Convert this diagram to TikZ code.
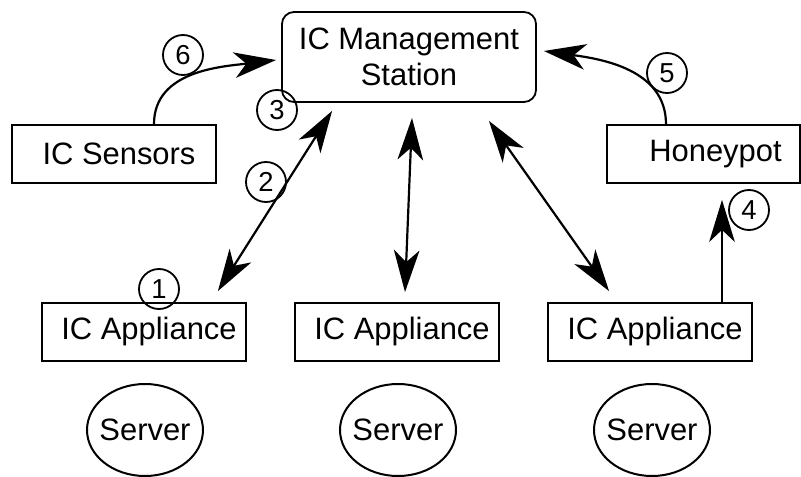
\documentclass[tikz,border=0pt]{standalone}
\usepackage{fontspec}
\setmainfont{Liberation Sans}
\usepackage{tikz}
\usetikzlibrary{positioning,arrows.meta,calc,shapes.geometric}

\begin{document}
\begin{tikzpicture}[
  x=0.25mm,y=0.25mm,
  font=\fontsize{22}{25.5}\selectfont,
  box/.style={rectangle,draw,line width=0.45mm,minimum width=51mm,minimum height=14.5mm,inner sep=0,
    execute at begin node={\hspace*{2.5mm}}},
  st/.style={rectangle,draw,line width=0.45mm,rounded corners=3mm,minimum width=63.5mm,minimum height=22.5mm,align=center,inner sep=0},
  srv/.style={ellipse,draw,line width=0.5mm,minimum width=29mm,minimum height=23mm,inner ysep=0,inner xsep=-3mm},
  num/.style={circle,draw,line width=0.45mm,minimum size=10mm,inner sep=0,font=\fontsize{19.5}{22}\selectfont},
  a/.style={-{Stealth[length=10.5mm,width=6.4mm,inset=3mm]},line width=0.55mm},
  aa/.style={{Stealth[length=10.5mm,width=6.4mm,inset=3mm]}-{Stealth[length=10.5mm,width=6.4mm,inset=3mm]},line width=0.55mm},
]
\useasboundingbox (0,0) rectangle (801,476);
% --- top: station, sensors, honeypot ---
\node[st] (mgmt) at (409,419) {IC Management\\Station};
\node[box] (sens) at (114,322) {IC Sensors};
\node[box,minimum width=48.25mm,execute at begin node={\hspace*{3.5mm}}] (hp) at (703.5,322) {Honeypot};
% --- appliances and the servers behind them ---
\node[box] (app1) at (144,144) {IC Appliance};
\node[box] (app2) at (397,144) {IC Appliance};
\node[box] (app3) at (650,144) {IC Appliance};
\node[srv] (srv1) at (145,46) {Server};
\node[srv] (srv2) at (398,46) {Server};
\node[srv] (srv3) at (652,46) {Server};
% --- links ---
\draw[aa] ($(app1.north east)+(-29,11)$) -- ($(mgmt.south west)+(51,-8)$);
\draw[aa] ($(app2.north)+(8,10)$) -- ($(mgmt.south)+(3,-15)$);
\draw[aa] ($(app3.north west)+(62,11)$) -- ($(mgmt.south east)+(-48,-18)$);
\draw[a] ($(app3.north)+(72,0)$) -- ($(hp.south)+(18.5,-16)$);
\draw[a] ($(sens.north)+(40,0)$) to[out=90,in=187] ($(mgmt.west)+(-5,-3)$);
\draw[a] ($(hp.north)+(-37.5,0)$) to[out=90,in=-8] ($(mgmt.east)+(7,6)$);
% --- step numbers ---
\node[num] (n1) at (159,187) {1};
\node[num] (n2) at (266,294) {2};
\node[num] (n3) at (277,366) {3};
\node[num] (n4) at (749,266) {4};
\node[num] (n5) at (667,403) {5};
\node[num] (n6) at (183,421) {6};
\end{tikzpicture}
\end{document}
